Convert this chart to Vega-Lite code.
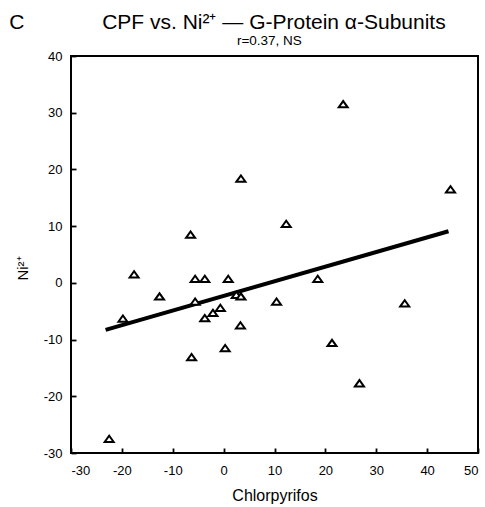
{
  "$schema": "https://vega.github.io/schema/vega-lite/v6.json",
  "width": 407,
  "height": 397,
  "autosize": "none",
  "padding": {"left": 71, "top": 56, "right": 7, "bottom": 54},
  "background": "white",
  "config": {
    "view": {"stroke": "#000", "strokeWidth": 2},
    "font": "Liberation Sans",
    "axis": {
      "domain": false,
      "grid": false,
      "tickColor": "#000",
      "tickWidth": 1.8,
      "tickSize": -5,
      "labelFont": "Liberation Sans",
      "labelFontSize": 13,
      "labelColor": "#000",
      "labelExpr": "'' + datum.value",
      "titleFont": "Liberation Sans",
      "titleFontWeight": "normal",
      "titleColor": "#000"
    }
  },
  "title": {
    "text": "C\u2003\u2003\u2003\u2002\u2009CPF vs. Ni²⁺ — G-Protein α-Subunits",
    "subtitle": "\u200B\u2003\u2003\u2003\u2003\u2003\u2003\u2009r=0.37, NS",
    "anchor": "middle",
    "frame": "group",
    "dx": -47,
    "font": "Liberation Sans",
    "fontSize": 21,
    "fontWeight": "normal",
    "color": "#000",
    "subtitleFont": "Liberation Sans",
    "subtitleFontSize": 13.5,
    "subtitleColor": "#000",
    "subtitlePadding": 1,
    "offset": 3
  },
  "datasets": {
    "points": [
      {"x": -22.5, "y": -27.5}, {"x": -19.8, "y": -6.3}, {"x": -17.6, "y": 1.5},
      {"x": -12.6, "y": -2.4}, {"x": -6.5, "y": 8.5}, {"x": -6.3, "y": -13.1},
      {"x": -5.6, "y": 0.7}, {"x": -5.6, "y": -3.3}, {"x": -3.7, "y": 0.7},
      {"x": -3.7, "y": -6.2}, {"x": -2.1, "y": -5.3}, {"x": -0.65, "y": -4.4},
      {"x": 0.3, "y": -11.5}, {"x": 0.9, "y": 0.7}, {"x": 2.5, "y": -2.1},
      {"x": 3.4, "y": -2.4}, {"x": 3.3, "y": -7.5}, {"x": 3.4, "y": 18.4},
      {"x": 10.4, "y": -3.3}, {"x": 12.3, "y": 10.4}, {"x": 18.5, "y": 0.7},
      {"x": 21.3, "y": -10.6}, {"x": 23.5, "y": 31.5}, {"x": 26.7, "y": -17.7},
      {"x": 35.6, "y": -3.6}, {"x": 44.6, "y": 16.5}
    ],
    "fit": [
      {"x": -23.2, "y": -8.3}, {"x": 44.2, "y": 9.1}
    ]
  },
  "encoding": {
    "x": {
      "field": "x", "type": "quantitative",
      "scale": {"domain": [-30, 50], "nice": false, "zero": false},
      "axis": {"values": [-30, -20, -10, 0, 10, 20, 30, 40, 50], "title": "Chlorpyrifos", "titleFontSize": 16, "labelPadding": 16, "titleY": 47, "titleBaseline": "alphabetic"}
    },
    "y": {
      "field": "y", "type": "quantitative",
      "scale": {"domain": [-30, 40], "nice": false, "zero": false},
      "axis": {"values": [-30, -20, -10, 0, 10, 20, 30, 40], "title": "Ni²⁺", "titleFontSize": 15, "labelPadding": 14, "titleX": -49, "titleY": 212, "titleBaseline": "middle"}
    }
  },
  "layer": [
    {
      "mark": {"type": "rule", "color": "#000", "strokeWidth": 2},
      "encoding": {"y": {"datum": -0.3}, "x": {"datum": -30}, "x2": {"datum": 50}}
    },
    {
      "mark": {"type": "rule", "color": "#000", "strokeWidth": 2},
      "encoding": {"x": {"datum": 0}, "y": {"datum": 39}, "y2": {"datum": -30}}
    },
    {
      "data": {"name": "fit"},
      "mark": {"type": "line", "color": "#000", "strokeWidth": 4},
      "encoding": {}
    },
    {
      "data": {"name": "points"},
      "mark": {"type": "point", "shape": "M -1 0.7 L 0 -0.7 L 1 0.7 Z", "size": 81, "filled": true, "fill": "#fff", "stroke": "#000", "strokeWidth": 2, "opacity": 1, "fillOpacity": 1, "strokeJoin": "miter"},
      "encoding": {}
    }
  ]
}
